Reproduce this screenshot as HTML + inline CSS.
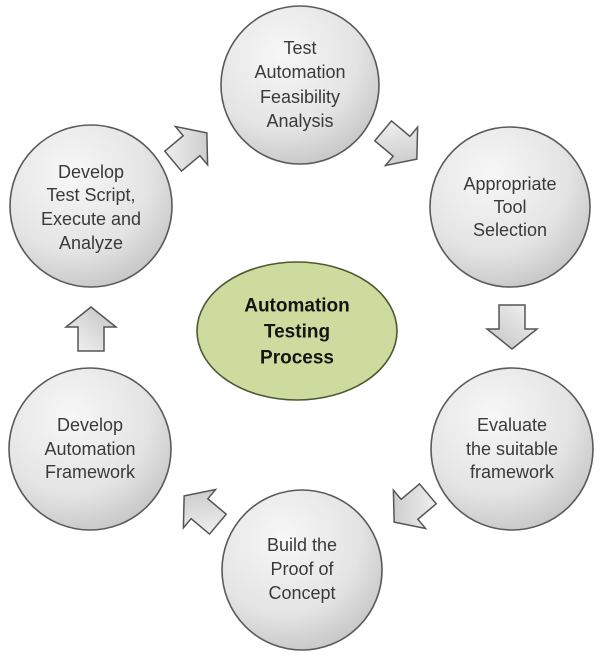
<!DOCTYPE html>
<html><head><meta charset="utf-8"><style>
html,body{margin:0;padding:0;background:#fff;}
svg{display:block;}
text{font-family:"Liberation Sans",sans-serif;fill:#3a3a3a;font-size:18px;}
.c{fill:#151515;font-weight:bold;font-size:19px;}
</style></head><body>
<svg width="600" height="657" viewBox="0 0 600 657">
<defs>
<radialGradient id="g" cx="0.38" cy="0.3" r="0.8">
<stop offset="0" stop-color="#f7f7f7"/><stop offset="0.6" stop-color="#e4e4e4"/><stop offset="1" stop-color="#c0c0c0"/>
</radialGradient>
<linearGradient id="a" x1="0" y1="0" x2="1" y2="1">
<stop offset="0" stop-color="#f5f5f5"/><stop offset="1" stop-color="#c2c2c2"/>
</linearGradient>
<polygon id="arr" points="-22,-13 2,-13 2,-25 22,0 2,25 2,13 -22,13" fill="url(#a)" stroke="#555" stroke-width="1.5"/>
</defs>
<g stroke="#5a5a5a" stroke-width="1.6" fill="url(#g)">
<circle cx="300" cy="85" r="79"/>
<circle cx="510" cy="207" r="80"/>
<circle cx="512" cy="449" r="81"/>
<circle cx="302" cy="570" r="80"/>
<circle cx="90" cy="449" r="81"/>
<circle cx="91" cy="206" r="81"/>
</g>
<ellipse cx="297" cy="331" rx="100" ry="69" fill="#cddc9e" stroke="#4a5a30" stroke-width="1.6"/>
<use href="#arr" transform="translate(190,147) rotate(-40)"/>
<use href="#arr" transform="translate(400,145) rotate(40)"/>
<use href="#arr" transform="translate(512,327) rotate(90)"/>
<use href="#arr" transform="translate(411,508) rotate(140)"/>
<use href="#arr" transform="translate(201,510) rotate(-140)"/>
<use href="#arr" transform="translate(91,329) rotate(-90)"/>
<g text-anchor="middle" dominant-baseline="central">
<text x="300" y="48">Test</text><text x="300" y="72">Automation</text><text x="300" y="97">Feasibility</text><text x="300" y="121">Analysis</text>
<text x="510" y="184">Appropriate</text><text x="510" y="207">Tool</text><text x="510" y="230">Selection</text>
<text x="512" y="425">Evaluate</text><text x="512" y="449">the suitable</text><text x="512" y="472">framework</text>
<text x="302" y="545">Build the</text><text x="302" y="569">Proof of</text><text x="302" y="593">Concept</text>
<text x="90" y="425">Develop</text><text x="90" y="449">Automation</text><text x="90" y="472">Framework</text>
<text x="91" y="172">Develop</text><text x="91" y="195">Test Script,</text><text x="91" y="219">Execute and</text><text x="91" y="243">Analyze</text>
<text class="c" x="297" y="306">Automation</text><text class="c" x="297" y="332">Testing</text><text class="c" x="297" y="358">Process</text>
</g>
</svg>
</body></html>
